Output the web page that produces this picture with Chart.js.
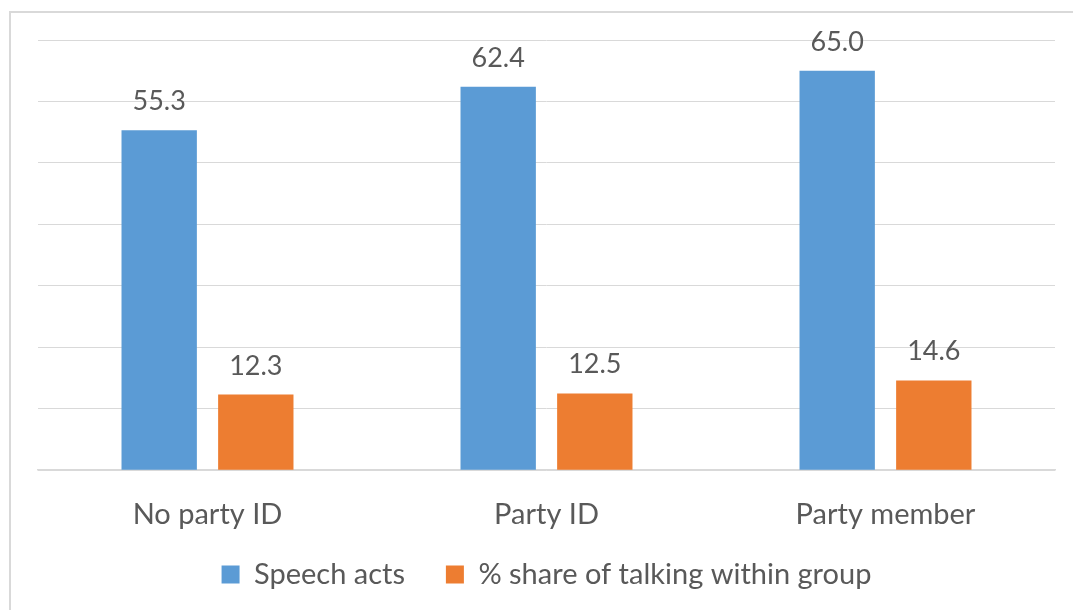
<!DOCTYPE html>
<html>
<head>
<meta charset="utf-8">
<script src="https://cdn.jsdelivr.net/npm/chart.js@4"></script>
<style>
  html, body { margin: 0; padding: 0; background: #fff; }
  #wrap { position: relative; width: 1073px; height: 610px; overflow: hidden; }
  #frame { position: absolute; left: 9px; top: 11px; width: 1100px; height: 700px;
           border-left: 2px solid #d9d9d9; border-top: 2px solid #d9d9d9; box-sizing: border-box; }
  canvas { position: absolute; left: 0; top: 0; }
</style>
</head>
<body>
<div id="wrap">
  <div id="frame"></div>
  <canvas id="groupChart" width="1073" height="610"></canvas>
</div>
<script>
'use strict';

const groups = ['No party ID', 'Party ID', 'Party member'];
const speechActs = [55.3, 62.4, 65.0];
const shareTalking = [12.3, 12.5, 14.6];

const textClr = '#595959';
const fontFamily = 'Lato, "Open Sans", sans-serif';

// value labels above each bar
const barValues = {
    id: 'barValues',
    afterDatasetsDraw(chart) {
        const ctx = chart.ctx;
        ctx.save();
        ctx.fillStyle = textClr;
        ctx.font = '27px ' + fontFamily;
        ctx.textAlign = 'center';
        ctx.textBaseline = 'alphabetic';
        chart.data.datasets.forEach((ds, i) => {
            chart.getDatasetMeta(i).data.forEach((bar, j) => {
                ctx.fillText(ds.data[j].toFixed(1), bar.x, bar.y - 20);
            });
        });
        ctx.restore();
    },
};

new Chart(document.getElementById('groupChart'), {
    type: 'bar',
    data: {
        labels: groups,
        datasets: [
            { label: 'Speech acts', data: speechActs, backgroundColor: '#5b9bd5' },
            { label: '% share of talking within group', data: shareTalking, backgroundColor: '#ed7d31' },
        ],
    },
    options: {
        responsive: false, animation: false,
        categoryPercentage: 0.57, barPercentage: 0.78,
        layout: { padding: { left: 38, right: 18, top: 40, bottom: 11 } },
        plugins: {
            legend: {
                position: 'bottom',
                labels: {
                    color: textClr, font: { family: fontFamily, size: 29 }, boxWidth: 18, boxHeight: 18, padding: 1,
                    // widen the gap after the first entry without adding vertical space
                    generateLabels(chart) {
                        const items = Chart.defaults.plugins.legend.labels.generateLabels(chart);
                        items[0].text += '\u2003\u2002\u2009';
                        return items;
                    },
                },
            },
            tooltip: { enabled: false },
        },
        scales: {
            x: {
                grid: { display: false, drawTicks: false },
                border: { color: '#d9d9d9', width: 1.5 },
                ticks: { color: textClr, font: { family: fontFamily, size: 29 }, padding: 27 },
            },
            y: {
                min: 0, max: 70,
                grid: { color: '#d9d9d9', lineWidth: 1, drawTicks: false },
                border: { display: false },
                ticks: { display: false, stepSize: 10 },
            },
        },
    },
    plugins: [barValues],
});
</script>
</body>
</html>
